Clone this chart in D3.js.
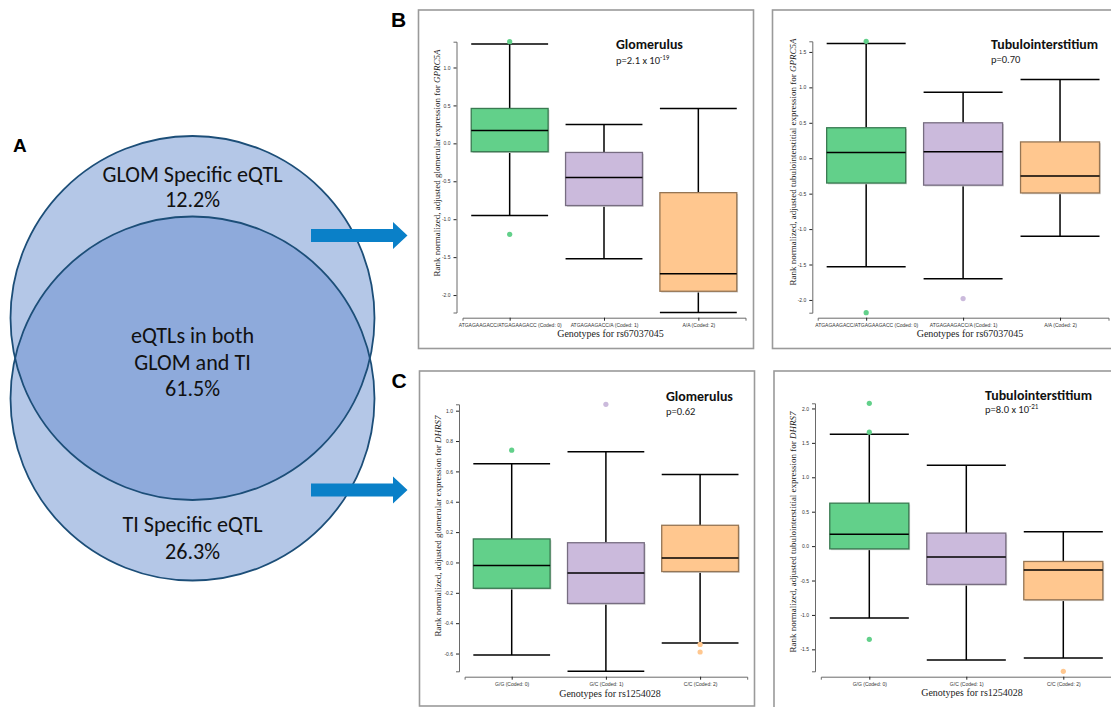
<!DOCTYPE html>
<html><head><meta charset="utf-8">
<script src="https://cdn.jsdelivr.net/npm/d3@7"></script>
<style>body{margin:0;background:#fff;} svg{display:block;}</style>
</head><body>
<svg id="chart" width="1111" height="707"></svg>
<script>
// ---------------- DATA ----------------
// Venn (panel A)
const vennRegionLabels = [["GLOM Specific eQTL"], ["eQTLs in both", "GLOM and TI"], ["TI Specific eQTL"]];
const vennPercents = [12.2, 61.5, 26.3];

// Genotype categories (x tick labels)
const genotypesRs67037045 = ["ATGAGAAGACC/ATGAGAAGACC (Coded: 0)", "ATGAGAAGACC/A (Coded: 1)", "A/A (Coded: 2)"];
const genotypesRs1254028 = ["G/G (Coded: 0)", "G/C (Coded: 1)", "C/C (Coded: 2)"];

// Panel titles
const panelTissues = ["Glomerulus", "Tubulointerstitium", "Glomerulus", "Tubulointerstitium"];
const panelPText = ["p=2.1 x 10", "p=0.70", "p=0.62", "p=8.0 x 10"];
const panelPExponent = ["-19", "", "", "-21"];
const panelGenes = ["GPRC5A", "GPRC5A", "DHRS7", "DHRS7"];
const panelTissueAdj = ["glomerular", "tubulointerstitial", "glomerular", "tubulointerstitial"];
const panelSnps = ["rs67037045", "rs67037045", "rs1254028", "rs1254028"];

// B – Glomerulus, GPRC5A
const bGlomLow = [-0.95, -1.52, -2.23];
const bGlomQ1 = [-0.11, -0.82, -1.95];
const bGlomMedian = [0.17, -0.45, -1.72];
const bGlomQ3 = [0.46, -0.12, -0.65];
const bGlomHigh = [1.31, 0.25, 0.46];
const bGlomOutliers = [[1.34, -1.20], [], []];

// B – Tubulointerstitium, GPRC5A
const bTiLow = [-1.53, -1.70, -1.10];
const bTiQ1 = [-0.35, -0.38, -0.49];
const bTiMedian = [0.08, 0.09, -0.25];
const bTiQ3 = [0.43, 0.50, 0.23];
const bTiHigh = [1.62, 0.93, 1.11];
const bTiOutliers = [[1.65, -2.18], [-1.98], []];

// C – Glomerulus, DHRS7
const cGlomLow = [-0.61, -0.717, -0.53];
const cGlomQ1 = [-0.17, -0.27, -0.06];
const cGlomMedian = [-0.02, -0.07, 0.03];
const cGlomQ3 = [0.155, 0.13, 0.245];
const cGlomHigh = [0.65, 0.73, 0.58];
const cGlomOutliers = [[0.74], [1.042], [-0.54, -0.59]];

// C – Tubulointerstitium, DHRS7
const cTiLow = [-1.045, -1.655, -1.626];
const cTiQ1 = [-0.04, -0.556, -0.78];
const cTiMedian = [0.174, -0.16, -0.348];
const cTiQ3 = [0.624, 0.189, -0.223];
const cTiHigh = [1.626, 1.176, 0.208];
const cTiOutliers = [[2.075, 1.655, -1.355], [], [-1.819]];

const boxColors = ["#62d08a", "#cbbadc", "#ffc78f"];

// ---------------- DRAW ----------------
const svg = d3.select("#chart");
const calibri = "Carlito, Lato, 'Open Sans', sans-serif";

function fitFont(sel, target) {
  const node = sel.node();
  const fs = parseFloat(sel.attr("font-size"));
  const w = node.getComputedTextLength();
  const nfs = fs * target / w;
  sel.attr("font-size", nfs);
  return nfs;
}

// ---- Panel A: Venn ----
const venn = svg.append("g");
const vennR = 182;
const vennCircles = [{cx: 192.5, cy: 318}, {cx: 192.5, cy: 398.5}];
svg.append("defs").append("clipPath").attr("id", "clipTop")
  .append("circle").attr("cx", vennCircles[0].cx).attr("cy", vennCircles[0].cy).attr("r", vennR);
venn.selectAll("circle.fill").data(vennCircles).join("circle")
  .attr("class", "fill").attr("cx", d => d.cx).attr("cy", d => d.cy).attr("r", vennR)
  .attr("fill", "#b4c7e7");
venn.append("circle").attr("cx", vennCircles[1].cx).attr("cy", vennCircles[1].cy).attr("r", vennR)
  .attr("clip-path", "url(#clipTop)").attr("fill", "#8eaadb");
venn.selectAll("circle.stroke").data(vennCircles).join("circle")
  .attr("class", "stroke").attr("cx", d => d.cx).attr("cy", d => d.cy).attr("r", vennR)
  .attr("fill", "none").attr("stroke", "#1c4e78").attr("stroke-width", 1.8);

// font size from reference width of first label
const probe = venn.append("text").attr("font-family", calibri).attr("font-size", 20).text(vennRegionLabels[0][0]);
const vennFs = fitFont(probe, 180);
probe.remove();
const vennBaselines = [[181.7, 207.3], [342.7, 369.5, 396], [532.3, 559]];
vennRegionLabels.forEach((lines, i) => {
  const all = lines.concat([vennPercents[i].toFixed(1) + "%"]);
  all.forEach((t, j) => {
    venn.append("text").attr("x", 192.5).attr("y", vennBaselines[i][j])
      .attr("text-anchor", "middle").attr("font-family", calibri).attr("font-size", vennFs)
      .attr("fill", "#111").text(t);
  });
});

// arrows
const arrowYs = [235.5, 490];
arrowYs.forEach(cy => {
  const p = d3.path();
  p.moveTo(311, cy - 6.5); p.lineTo(393, cy - 6.5); p.lineTo(393, cy - 13.5);
  p.lineTo(407.5, cy); p.lineTo(393, cy + 13.5); p.lineTo(393, cy + 6.5);
  p.lineTo(311, cy + 6.5); p.closePath();
  svg.append("path").attr("d", p.toString()).attr("fill", "#0a80c8");
});

// panel letters
const letters = [{t: "A", x: 13, y: 151.5, s: 19}, {t: "B", x: 391, y: 27, s: 21}, {t: "C", x: 391.5, y: 388, s: 21}];
svg.selectAll("text.letter").data(letters).join("text").attr("class", "letter")
  .attr("x", d => d.x).attr("y", d => d.y).attr("font-size", d => d.s)
  .attr("font-family", "'Liberation Sans', Arial, sans-serif").attr("font-weight", "bold").text(d => d.t);

// ---- Box-plot panels ----
const panelData = [
  {geno: genotypesRs67037045, low: bGlomLow, q1: bGlomQ1, med: bGlomMedian, q3: bGlomQ3, high: bGlomHigh, out: bGlomOutliers},
  {geno: genotypesRs67037045, low: bTiLow, q1: bTiQ1, med: bTiMedian, q3: bTiQ3, high: bTiHigh, out: bTiOutliers},
  {geno: genotypesRs1254028, low: cGlomLow, q1: cGlomQ1, med: cGlomMedian, q3: cGlomQ3, high: cGlomHigh, out: cGlomOutliers},
  {geno: genotypesRs1254028, low: cTiLow, q1: cTiQ1, med: cTiMedian, q3: cTiQ3, high: cTiHigh, out: cTiOutliers}
];
const panelLayout = [
  {frame: [418.5, 10, 753.5, 348.5], ax: 456.5, yTop: 41.7, yBot: 312.5, xAy: 317.7, x0: 462.5, x1: 745.5, ytx: 439.5, yty: 163, xtx: 610.5, xty: 337.3, tx: 616, ty: 49, py: 64},
  {frame: [772.5, 10, 1120, 348.5], ax: 812.3, yTop: 41.3, yBot: 312.7, xAy: 317.7, x0: 817.7, x1: 1108.5, ytx: 795.5, yty: 162, xtx: 970, xty: 336.7, tx: 991, ty: 49.3, py: 63.3},
  {frame: [419.5, 371, 754.5, 706], ax: 459, yTop: 404.3, yBot: 671.3, xAy: 676.7, x0: 464.6, x1: 747.2, ytx: 441, yty: 526, xtx: 610, xty: 696.7, tx: 666, ty: 401, py: 415},
  {frame: [774, 371, 1120, 714], ax: 815, yTop: 403.3, yBot: 671.3, xAy: 676.7, x0: 820.8, x1: 1111.8, ytx: 796, yty: 532, xtx: 972, xty: 695.7, tx: 985, ty: 399.7, py: 413.3}
];

let titleFs = null, pFs = null;

panelData.forEach((d, pi) => {
  const L = panelLayout[pi];
  const g = svg.append("g");
  // frame
  g.append("rect").attr("x", L.frame[0]).attr("y", L.frame[1])
    .attr("width", L.frame[2] - L.frame[0]).attr("height", L.frame[3] - L.frame[1])
    .attr("fill", "none").attr("stroke", "#9a9a9a").attr("stroke-width", 1.6);

  const allVals = d.low.concat(d.high, d.out.flat());
  const y = d3.scaleLinear().domain(d3.extent(allVals)).range([L.yBot, L.yTop]);
  const x = d3.scalePoint().domain(d.geno).range([L.x0, L.x1]).padding(0.5);
  const bw = x.step() * 0.815;

  // axes
  const yAxis = d3.axisLeft(y).ticks(8).tickFormat(v => v.toFixed(1)).tickSizeInner(3).tickSizeOuter(3).tickPadding(3);
  const ya = g.append("g").attr("transform", `translate(${L.ax},0)`).call(yAxis);
  const xAxis = d3.axisBottom(x).tickSizeInner(3).tickSizeOuter(3).tickPadding(3);
  const xa = g.append("g").attr("transform", `translate(0,${L.xAy})`).call(xAxis);
  [ya, xa].forEach(a => {
    a.select(".domain").attr("stroke", "#6a6a6a").attr("stroke-width", 1);
    a.selectAll(".tick line").attr("stroke", "#222").attr("stroke-width", 1);
    a.selectAll(".tick text").attr("font-family", "'Liberation Sans', Arial, sans-serif").attr("font-size", 5).attr("fill", "#333");
  });

  // boxes
  d.geno.forEach((gname, i) => {
    const cx = x(gname);
    const col = boxColors[i];
    // whiskers
    g.append("line").attr("x1", cx).attr("x2", cx).attr("y1", y(d.high[i])).attr("y2", y(d.q3[i])).attr("stroke", "#000").attr("stroke-width", 1.5);
    g.append("line").attr("x1", cx).attr("x2", cx).attr("y1", y(d.q1[i])).attr("y2", y(d.low[i])).attr("stroke", "#000").attr("stroke-width", 1.5);
    [d.high[i], d.low[i]].forEach(v => {
      g.append("line").attr("x1", cx - bw / 2).attr("x2", cx + bw / 2).attr("y1", y(v)).attr("y2", y(v)).attr("stroke", "#000").attr("stroke-width", 1.5);
    });
    // shadow + box
    g.append("rect").attr("x", cx - bw / 2 + 1.3).attr("y", y(d.q3[i]) + 1.3).attr("width", bw).attr("height", y(d.q1[i]) - y(d.q3[i]))
      .attr("fill", "#cfcfcf");
    g.append("rect").attr("x", cx - bw / 2).attr("y", y(d.q3[i])).attr("width", bw).attr("height", y(d.q1[i]) - y(d.q3[i]))
      .attr("fill", col).attr("stroke", d3.color(col).darker(1.5)).attr("stroke-width", 1.3);
    g.append("line").attr("x1", cx - bw / 2).attr("x2", cx + bw / 2).attr("y1", y(d.med[i])).attr("y2", y(d.med[i])).attr("stroke", "#000").attr("stroke-width", 1.5);
    // outliers
    g.selectAll(null).data(d.out[i]).join("circle").attr("cx", cx).attr("cy", v => y(v)).attr("r", 2.6).attr("fill", col);
  });

  // axis titles
  const yt = g.append("text").attr("transform", `translate(${L.ytx},${L.yty}) rotate(-90)`)
    .attr("text-anchor", "middle").attr("font-family", "'Liberation Serif', 'Times New Roman', serif")
    .attr("font-size", 9).attr("fill", "#222");
  yt.append("tspan").text(`Rank normalized, adjusted ${panelTissueAdj[pi]} expression for `);
  yt.append("tspan").attr("font-style", "italic").text(panelGenes[pi]);
  g.append("text").attr("x", L.xtx).attr("y", L.xty).attr("text-anchor", "middle")
    .attr("font-family", "'Liberation Serif', 'Times New Roman', serif").attr("font-size", 10).attr("fill", "#222")
    .text(`Genotypes for ${panelSnps[pi]}`);

  // titles
  const tt = g.append("text").attr("x", L.tx).attr("y", L.ty).attr("font-family", calibri)
    .attr("font-weight", "bold").attr("font-size", 14).attr("fill", "#111").text(panelTissues[pi]);
  if (titleFs === null) titleFs = fitFont(tt, 67); else tt.attr("font-size", titleFs);
  const pt = g.append("text").attr("x", L.tx).attr("y", L.py).attr("font-family", calibri)
    .attr("font-size", 10.5).attr("fill", "#222");
  pt.append("tspan").text(panelPText[pi]);
  if (panelPExponent[pi]) {
    pt.append("tspan").attr("font-size", 7).attr("dy", -4).text(panelPExponent[pi]);
  }
});
</script>
</body></html>
